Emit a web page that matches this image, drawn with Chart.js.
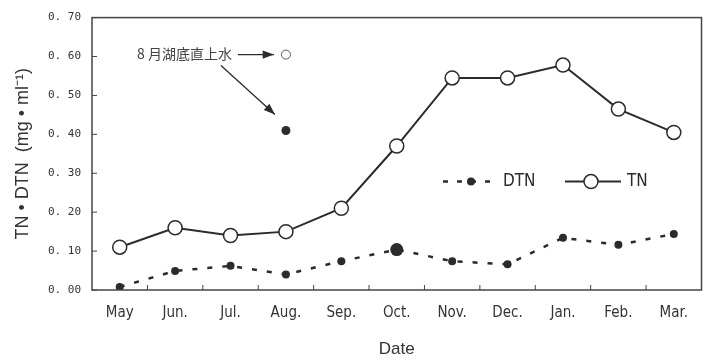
<!DOCTYPE html>
<html>
<head>
<meta charset="utf-8">
<script src="https://cdn.jsdelivr.net/npm/chart.js@4.4.1/dist/chart.umd.min.js"></script>
<style>
  html, body { margin: 0; padding: 0; background: #fff; }
  #wrap { width: 710px; height: 360px; }
</style>
</head>
<body>
<div id="wrap"><canvas id="chart" width="710" height="360"></canvas></div>
<script>
const months = ['May', 'Jun.', 'Jul.', 'Aug.', 'Sep.', 'Oct.', 'Nov.', 'Dec.', 'Jan.', 'Feb.', 'Mar.'];
const tnValues = [0.11, 0.16, 0.14, 0.15, 0.21, 0.37, 0.545, 0.545, 0.578, 0.465, 0.405];
const dtnValues = [0.008, 0.049, 0.062, 0.04, 0.074, 0.104, 0.074, 0.066, 0.134, 0.116, 0.144];
const dtnRadius = [4, 4, 4, 4, 4, 6.5, 4, 4, 4, 4, 4];
// bottom water sampled in August
const bottomMonth = 'Aug.';
const bottomTN = 0.605;
const bottomDTN = 0.41;
const bottomLabel = '8 月湖底直上水';
const yTickLabels = ['0. 00', '0. 10', '0. 20', '0. 30', '0. 40', '0. 50', '0. 60', '0. 70'];

const ink = '#2b2b2b';
const narrow = '"Liberation Sans Narrow", "DejaVu Sans Condensed", sans-serif';

const onlyAt = (v) => months.map(m => (m === bottomMonth ? v : null));

// frame, inward tick marks, inline legend and the arrows
const decor = {
  id: 'decor',
  afterDraw(chart) {
    const { ctx, chartArea: a, scales: { x, y } } = chart;
    ctx.save();
    ctx.strokeStyle = '#444';
    ctx.lineWidth = 1.5;
    ctx.strokeRect(a.left, a.top, a.right - a.left, a.bottom - a.top);

    ctx.lineWidth = 1;
    ctx.beginPath();
    for (let i = 1; i < months.length; i++) {
      const px = (x.getPixelForValue(i - 1) + x.getPixelForValue(i)) / 2;
      ctx.moveTo(px, a.bottom);
      ctx.lineTo(px, a.bottom - 5);
    }
    y.ticks.forEach(t => {
      const py = y.getPixelForValue(t.value);
      ctx.moveTo(a.left, py);
      ctx.lineTo(a.left + 5, py);
    });
    ctx.stroke();

    // legend
    const ly = a.top + 164;
    const lx = a.left + 351;
    ctx.strokeStyle = ink;
    ctx.lineWidth = 2.5;
    ctx.setLineDash([5, 9]);
    ctx.beginPath();
    ctx.moveTo(lx, ly);
    ctx.lineTo(lx + 52, ly);
    ctx.stroke();
    ctx.setLineDash([]);
    ctx.fillStyle = ink;
    ctx.beginPath();
    ctx.arc(lx + 28, ly, 4, 0, Math.PI * 2);
    ctx.fill();
    ctx.font = '17px ' + narrow;
    ctx.textBaseline = 'middle';
    ctx.fillText('DTN', lx + 60, ly);

    const tx = lx + 122;
    ctx.lineWidth = 2;
    ctx.beginPath();
    ctx.moveTo(tx, ly);
    ctx.lineTo(tx + 56, ly);
    ctx.stroke();
    ctx.fillStyle = '#fff';
    ctx.beginPath();
    ctx.arc(tx + 26, ly, 7, 0, Math.PI * 2);
    ctx.fill();
    ctx.lineWidth = 1.5;
    ctx.stroke();
    ctx.fillStyle = ink;
    ctx.fillText('TN', tx + 62, ly);

    // annotation arrows pointing at the August bottom-water points
    const bx = x.getPixelForValue(months.indexOf(bottomMonth));
    const tnY = y.getPixelForValue(bottomTN);
    const dtnY = y.getPixelForValue(bottomDTN);
    ctx.font = '14px "Noto Sans CJK JP", sans-serif';
    ctx.fillStyle = '#444';
    ctx.textAlign = 'right';
    ctx.fillText(bottomLabel, bx - 54, tnY - 1);
    ctx.fillStyle = ink;
    const arrow = (x0, y0, x1, y1) => {
      const ang = Math.atan2(y1 - y0, x1 - x0);
      ctx.lineWidth = 1.3;
      ctx.beginPath();
      ctx.moveTo(x0, y0);
      ctx.lineTo(x1, y1);
      ctx.stroke();
      ctx.beginPath();
      ctx.moveTo(x1, y1);
      ctx.lineTo(x1 - 12 * Math.cos(ang - 0.35), y1 - 12 * Math.sin(ang - 0.35));
      ctx.lineTo(x1 - 12 * Math.cos(ang + 0.35), y1 - 12 * Math.sin(ang + 0.35));
      ctx.closePath();
      ctx.fill();
    };
    arrow(bx - 48, tnY, bx - 12, tnY);
    arrow(bx - 65, tnY + 11, bx - 11, dtnY - 16);
    ctx.restore();
  }
};

new Chart(document.getElementById('chart'), {
  type: 'line',
  data: {
    labels: months,
    datasets: [
      {
        label: 'TN',
        data: tnValues,
        borderColor: ink,
        borderWidth: 2,
        pointRadius: 7,
        pointBorderWidth: 1.5,
        pointBackgroundColor: '#fff',
        pointBorderColor: ink,
        tension: 0
      },
      {
        label: 'DTN',
        data: dtnValues,
        borderColor: ink,
        borderWidth: 2.5,
        borderDash: [5, 10],
        pointRadius: dtnRadius,
        pointBackgroundColor: ink,
        pointBorderWidth: 0,
        tension: 0
      },
      {
        label: 'TN bottom',
        data: onlyAt(bottomTN),
        showLine: false,
        pointRadius: 4.5,
        pointBorderWidth: 1,
        pointBackgroundColor: '#fff',
        pointBorderColor: '#555'
      },
      {
        label: 'DTN bottom',
        data: onlyAt(bottomDTN),
        showLine: false,
        pointRadius: 4.5,
        pointBorderWidth: 0,
        pointBackgroundColor: ink
      }
    ]
  },
  options: {
    responsive: false,
    animation: false,
    layout: { padding: { left: 0, right: 8, top: 14, bottom: 0 } },
    scales: {
      x: {
        offset: true,
        grid: { display: false, drawTicks: false },
        border: { display: false },
        ticks: {
          padding: 14,
          color: '#333',
          font: { family: narrow, size: 15 }
        },
        title: {
          display: true,
          text: 'Date',
          color: '#333',
          font: { family: '"Liberation Sans", Arial, sans-serif', size: 17 },
          padding: { top: 14, bottom: 0 }
        },
        afterFit(scale) { scale.height = 70; }
      },
      y: {
        min: 0,
        max: 0.7,
        grid: { display: false, drawTicks: false },
        border: { display: false },
        ticks: {
          stepSize: 0.1,
          padding: 11,
          color: '#333',
          font: { family: '"DejaVu Sans Mono", monospace', size: 11 },
          callback: (v, i) => yTickLabels[i]
        },
        title: {
          display: true,
          text: 'TN • DTN  (mg • ml⁻¹)',
          color: '#333',
          font: { family: '"Liberation Sans", Arial, sans-serif', size: 18 },
          padding: { top: 12, bottom: 8 }
        },
        afterFit(scale) { scale.width = 92; }
      }
    },
    plugins: {
      legend: { display: false },
      tooltip: { enabled: false }
    }
  },
  plugins: [decor]
});
</script>
</body>
</html>
